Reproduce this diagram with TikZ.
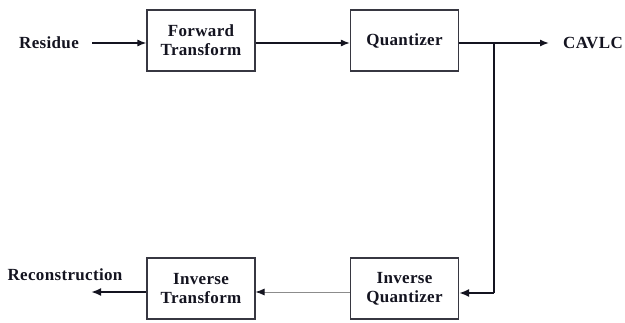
\documentclass[tikz,border=0pt]{standalone}
\usepackage{fontspec}
\setmainfont{Liberation Serif}[LetterSpace=2]
\usetikzlibrary{arrows.meta}
\definecolor{ink}{HTML}{141420}
\tikzset{
  blk/.style={draw=ink!85, line width=1.1pt, fill=white, minimum width=108pt, minimum height=61pt,
    inner sep=0pt, align=center, font=\fontsize{17}{19}\selectfont\bfseries, text=ink},
  lbl/.style={font=\fontsize{17}{19}\selectfont\bfseries, text=ink, inner sep=0pt},
  flow/.style={draw=ink, line width=1.4pt, -{Latex[length=9pt,width=7pt]}},
  heavy/.style={draw=ink, line width=2.6pt, -{Latex[length=10pt,width=8pt]}},
  faint/.style={draw=black!45, line width=0.8pt, arrows={-{Latex[length=9pt,width=7pt,fill=ink,color=ink]}}}
}
\begin{document}
\begin{tikzpicture}[x=1pt, y=-1pt]
  \useasboundingbox (0,0) rectangle (625,322);
  % processing blocks
  \node[blk] (ft) at (201,40.5) {Forward\\Transform};
  \node[blk] (q)  at (404.5,40.5) {Quantizer};
  \node[blk] (iq) at (404.5,288.5) {Inverse\\Quantizer};
  \node[blk] (it) at (201,288.5) {Inverse\\Transform};
  % terminal labels
  \node[lbl] (res) at (49,43) {Residue};
  \node[lbl] (cav) at (593,43) {CAVLC};
  \node[lbl] (rec) at (65,275) {Reconstruction};
  % branch point and end points
  \coordinate (br) at (494,43);
  \coordinate (cin) at (549,43);
  \coordinate (rin) at (92,43);
  \coordinate (rout) at (91,292);
  % forward path
  \draw[flow] (rin) -- (ft.west |- rin);
  \draw[flow] (ft.east |- rin) -- (q.west |- rin);
  \draw[flow] (q.east |- rin) -- (cin);
  % feedback path
  \draw[ink, line width=1.4pt] (br) -- (br |- 0,293);
  \draw[heavy] (br |- 0,293) -- (iq.east |- 0,293);
  \draw[faint] (iq.west |- 0,292) -- (it.east |- 0,292);
  \draw[heavy] (it.west |- 0,292) -- (rout);
\end{tikzpicture}
\end{document}
